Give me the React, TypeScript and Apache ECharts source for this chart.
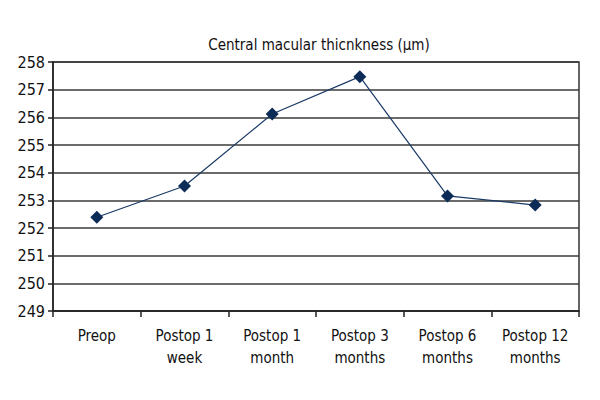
import React, { useEffect, useRef } from "react";
import * as echarts from "echarts";

const categories = [
  "Preop",
  "Postop 1\nweek",
  "Postop 1\nmonth",
  "Postop 3\nmonths",
  "Postop 6\nmonths",
  "Postop 12\nmonths",
];
const thickness = [252.39, 253.52, 256.12, 257.47, 253.16, 252.83];
const chartTitle = "Central macular thicnkness (µm)";
const yMin = 249;
const yMax = 258;

const FONT = "'DejaVu Sans Condensed', 'Open Sans', sans-serif";

export default function App() {
  const ref = useRef<HTMLDivElement>(null);
  useEffect(() => {
    if (!ref.current) return;
    const chart = echarts.init(ref.current, null, { renderer: "svg" });
    chart.setOption({
      animation: false,
      backgroundColor: "#ffffff",
      title: {
        text: chartTitle,
        left: 314,
        textAlign: "center",
        top: 32,
        textStyle: { fontFamily: FONT, fontSize: 15, fontWeight: "normal", color: "#111" },
      },
      grid: {
        left: 53,
        right: 21,
        top: 62,
        bottom: 89,
        show: true,
        borderColor: "#333",
        borderWidth: 1.5,
        backgroundColor: "transparent",
      },
      xAxis: {
        type: "category",
        data: categories,
        boundaryGap: true,
        axisLine: { show: true, lineStyle: { color: "#222", width: 1.5 } },
        axisTick: { show: true, length: 6, alignWithLabel: false, lineStyle: { color: "#222", width: 1.5 } },
        axisLabel: {
          fontFamily: FONT,
          fontSize: 15,
          color: "#111",
          margin: 14,
          lineHeight: 22,
          interval: 0,
        },
      },
      yAxis: {
        type: "value",
        min: yMin,
        max: yMax,
        interval: 1,
        axisLine: { show: true, lineStyle: { color: "#222", width: 1.5 } },
        axisTick: { show: true, length: 5, lineStyle: { color: "#222", width: 1.5 } },
        axisLabel: { fontFamily: FONT, fontSize: 16, color: "#111", margin: 8 },
        splitLine: { show: true, lineStyle: { color: "#3a3a3a", width: 1.6 } },
      },
      series: [
        {
          type: "line",
          data: thickness,
          symbol: "diamond",
          symbolSize: 13,
          itemStyle: { color: "#0d2b57" },
          lineStyle: { color: "#1b3a66", width: 1.2 },
        },
      ],
    });
    return () => chart.dispose();
  }, []);
  return <div ref={ref} style={{ width: 600, height: 400, margin: -8 }} />;
}
